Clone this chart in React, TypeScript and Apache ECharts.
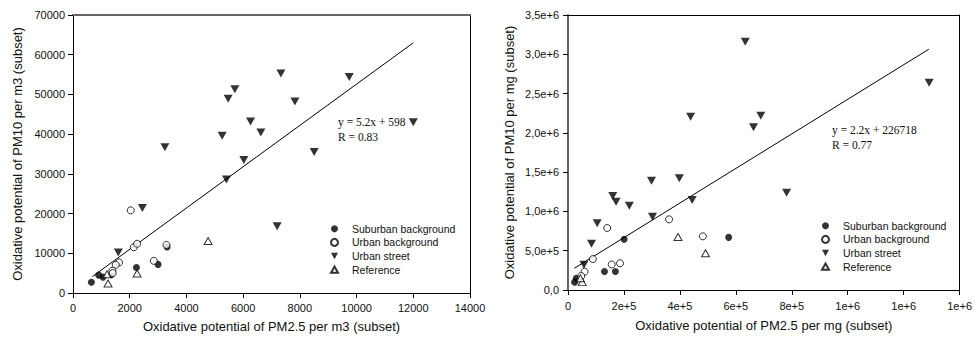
import React, { useEffect, useRef } from "react";
import * as echarts from "echarts";

// ---------- Data ----------
const seriesNames = ["Suburban background", "Urban background", "Urban street", "Reference"];

// Left panel: per m3
const leftSuburban = [[649, 2700], [907, 4500], [1059, 4000], [1355, 4600], [2237, 6400], [3000, 7200], [3318, 11600]];
const leftUrbanBg = [[2036, 20800], [2142, 11500], [2260, 12400], [3295, 12100], [2848, 8100], [1624, 7700], [1507, 7100], [1390, 5600], [1400, 5000]];
const leftUrbanStreet = [[2447, 21400], [1600, 10200], [3240, 36700], [5412, 28600], [6024, 33500], [7200, 16800], [5471, 48900], [5707, 51300], [7331, 55300], [7825, 48200], [6261, 43200], [5259, 39600], [6625, 40400], [9741, 54400], [12000, 43000], [8506, 35500]];
const leftReference = [[1237, 2400], [2260, 4900], [4765, 13100], [1200, 4700]];
const leftFit = { slope: 5.2, intercept: 598, xStart: 680, xEnd: 12000, label: "y = 5.2x + 598", r: "R = 0.83" };
const leftXLabels = ["0", "2000", "4000", "6000", "8000", "10000", "12000", "14000"];
const leftYLabels = ["0", "10000", "20000", "30000", "40000", "50000", "60000", "70000"];

// Right panel: per mg
const rightSuburban = [[23800, 100000], [29800, 149000], [130400, 236000], [169500, 236000], [200700, 645000], [574400, 670000]];
const rightUrbanBg = [[140000, 789000], [88800, 394000], [156300, 325000], [186100, 340000], [361300, 899000], [482100, 683000], [59300, 233000], [47500, 178000]];
const rightUrbanStreet = [[57000, 320000], [84000, 590000], [104400, 848000], [160000, 1196000], [171800, 1124000], [219200, 1073000], [298500, 1391000], [302100, 933000], [398000, 1421000], [444000, 1145000], [438300, 2205000], [633800, 3159000], [689200, 2218000], [663300, 2070000], [1291000, 2637000], [781500, 1238000]];
const rightReference = [[393300, 674000], [491700, 467000], [51000, 100000], [44000, 150000]];
const rightFit = { slope: 2.2, intercept: 226718, xStart: 23000, xEnd: 1290000, label: "y = 2.2x + 226718", r: "R = 0.77" };
const rightXLabels = ["0", "2e+5", "4e+5", "6e+5", "8e+5", "1e+6", "1e+6", "1e+6"];
const rightYLabels = ["0,0", "5,0e+5", "1,0e+6", "1,5e+6", "2,0e+6", "2,5e+6", "3,0e+6", "3,5e+6"];

const SANS = '"Liberation Sans", Arial, sans-serif';

const DOWN_TRIANGLE = "path://M0,0L10,0L5,9Z";
const UP_TRIANGLE = "path://M5,0L10,9L0,9Z";

function fitLine(f: { slope: number; intercept: number; xStart: number; xEnd: number }) {
  return [
    [f.xStart, f.slope * f.xStart + f.intercept],
    [f.xEnd, f.slope * f.xEnd + f.intercept],
  ];
}

const markerStyles = [
  { symbol: "circle", legendIcon: "circle", symbolSize: 7, itemStyle: { color: "#000", borderColor: "#000", borderWidth: 0 } },
  { symbol: "circle", legendIcon: "circle", symbolSize: 7, itemStyle: { color: "#fff", borderColor: "#000", borderWidth: 1 } },
  { symbol: DOWN_TRIANGLE, legendIcon: DOWN_TRIANGLE, symbolSize: [9, 8], itemStyle: { color: "#000", borderColor: "#000", borderWidth: 0 } },
  { symbol: UP_TRIANGLE, legendIcon: UP_TRIANGLE, symbolSize: [8, 7], itemStyle: { color: "#fff", borderColor: "#000", borderWidth: 1 } },
];

function scatterSeries(xi: number, yi: number, sets: number[][][]) {
  return sets.map((d, i) => ({
    type: "scatter",
    name: seriesNames[i],
    xAxisIndex: xi,
    yAxisIndex: yi,
    data: d,
    symbol: markerStyles[i].symbol,
    symbolSize: markerStyles[i].symbolSize,
    itemStyle: markerStyles[i].itemStyle,
    z: 3,
  }));
}

function mainXAxis(grid: number, max: number, interval: number, labels: string[], name: string, nameGap: number, labelMargin: number) {
  return {
    gridIndex: grid,
    type: "value",
    position: "bottom",
    min: 0,
    max,
    interval,
    splitLine: { show: false },
    axisLine: { show: true, onZero: false, lineStyle: { color: "#000", width: 1 } },
    axisTick: { show: true, inside: false, length: 5, lineStyle: { color: "#000" } },
    axisLabel: {
      margin: labelMargin,
      fontSize: 11,
      fontFamily: SANS,
      color: "#111",
      formatter: (v: number) => labels[Math.round(v / interval)] ?? "",
    },
    name,
    nameLocation: "middle",
    nameGap,
    nameTextStyle: { fontSize: 13, fontFamily: SANS, color: "#111" },
  };
}

function mainYAxis(grid: number, max: number, interval: number, labels: string[], name: string, nameGap: number, labelMargin: number, lineColor: string, lineWidth: number) {
  return {
    gridIndex: grid,
    type: "value",
    position: "left",
    min: 0,
    max,
    interval,
    splitLine: { show: false },
    axisLine: { show: true, onZero: false, lineStyle: { color: lineColor, width: lineWidth } },
    axisTick: { show: true, inside: false, length: 5, lineStyle: { color: "#000" } },
    axisLabel: {
      margin: labelMargin,
      fontSize: 11,
      fontFamily: SANS,
      color: "#111",
      formatter: (v: number) => labels[Math.round(v / interval)] ?? "",
    },
    name,
    nameLocation: "middle",
    nameGap,
    nameRotate: 90,
    nameTextStyle: { fontSize: 13, fontFamily: SANS, color: "#111" },
  };
}

function frameAxis(kind: "x" | "y", grid: number, max: number, color: string, width: number) {
  return {
    gridIndex: grid,
    type: "value",
    position: kind === "x" ? "top" : "right",
    min: 0,
    max,
    splitLine: { show: false },
    axisLine: { show: true, onZero: false, lineStyle: { color, width } },
    axisTick: { show: false },
    axisLabel: { show: false },
  };
}

function legendFor(left: number, top: number) {
  return {
    left,
    top,
    padding: 0,
    orient: "vertical",
    itemWidth: 7,
    itemHeight: 7,
    itemGap: 0,
    data: seriesNames.map((n, i) => ({ name: n, icon: markerStyles[i].legendIcon })),
    selectedMode: false,
    textStyle: { fontSize: 10.5, fontFamily: SANS, color: "#111", lineHeight: 13.6, padding: [0, 0, 0, 9] },
  };
}

export default function App() {
  const ref = useRef<HTMLDivElement>(null);

  useEffect(() => {
    if (!ref.current) return;
    const chart = echarts.init(ref.current, undefined, { renderer: "svg" });

    const option = {
      animation: false,
      backgroundColor: "#fff",
      grid: [
        { left: 73, top: 15, width: 397, height: 278, containLabel: false },
        { left: 568, top: 15, width: 393, height: 275, containLabel: false },
      ],
      xAxis: [
        mainXAxis(0, 14000, 2000, leftXLabels, "Oxidative potential of PM2.5 per m3 (subset)", 27, 9),
        frameAxis("x", 0, 14000, "#666", 2),
        mainXAxis(1, 1400000, 200000, rightXLabels, "Oxidative potential of PM2.5 per mg (subset)", 29, 10),
        frameAxis("x", 1, 1400000, "#000", 1),
      ],
      yAxis: [
        mainYAxis(0, 70000, 10000, leftYLabels, "Oxidative potential of PM10 per m3 (subset)", 49, 8, "#000", 1),
        frameAxis("y", 0, 70000, "#000", 1),
        mainYAxis(1, 3500000, 500000, rightYLabels, "Oxidative potential of PM10 per mg (subset)", 52, 9, "#666", 2),
        frameAxis("y", 1, 3500000, "#000", 1),
      ],
      legend: [legendFor(330, 222), legendFor(821, 219)],
      series: [
        ...scatterSeries(0, 0, [leftSuburban, leftUrbanBg, leftUrbanStreet, leftReference]),
        ...scatterSeries(2, 2, [rightSuburban, rightUrbanBg, rightUrbanStreet, rightReference]),
        {
          type: "line",
          name: "fitLeft",
          xAxisIndex: 0,
          yAxisIndex: 0,
          data: fitLine(leftFit),
          showSymbol: false,
          symbol: "none",
          lineStyle: { color: "#000", width: 1 },
          z: 2,
        },
        {
          type: "line",
          name: "fitRight",
          xAxisIndex: 2,
          yAxisIndex: 2,
          data: fitLine(rightFit),
          showSymbol: false,
          symbol: "none",
          lineStyle: { color: "#000", width: 1 },
          z: 2,
        },
      ],
      graphic: [
        {
          type: "text",
          left: 338,
          top: 115,
          style: { text: leftFit.label + "\n" + leftFit.r, font: '11.5px "Liberation Serif"', fill: "#111", lineHeight: 14.6 },
        },
        {
          type: "text",
          left: 832,
          top: 123,
          style: { text: rightFit.label + "\n" + rightFit.r, font: '11.5px "Liberation Serif"', fill: "#111", lineHeight: 14.6 },
        },
      ],
    };

    chart.setOption(option as any);
    return () => chart.dispose();
  }, []);

  return <div ref={ref} style={{ position: "absolute", left: 0, top: 0, width: 975, height: 341, background: "#fff" }} />;
}
